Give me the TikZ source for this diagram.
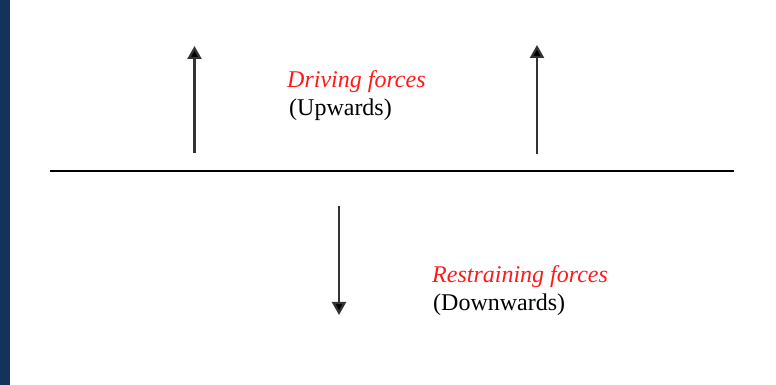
\documentclass[tikz,border=0pt]{standalone}
\usepackage{fontspec}
\setmainfont{Liberation Serif}
\usetikzlibrary{arrows.meta,positioning}
\definecolor{stripblue}{HTML}{14335C}
\definecolor{forcered}{HTML}{FF1A1A}
\tikzset{forcearrow/.style={line width=2.2pt,draw=black!80,-{Triangle[length=13pt 0,width=14pt 0,fill=black]}}}
\newcommand{\Fterm}[1]{\textcolor{forcered}{\itshape #1}}

\begin{document}
\begin{tikzpicture}[x=1pt,y=1pt,font=\fontsize{24}{28}\selectfont]
\useasboundingbox (0,0) rectangle (776,385);
\fill[stripblue] (0,0) rectangle (10,385);
% \draw[help lines] (0,0) grid (776,385);
\coordinate (lft) at (50,213.5);
\coordinate (rgt) at (734,213.5);
\coordinate (a1s) at (194.5,232);
\coordinate (a1e) at (194.5,339);
\coordinate (a2s) at (537,231);
\coordinate (a2e) at (537,340);
\coordinate (a3s) at (339,179);
\coordinate (a3e) at (339,70);
%
\node (drive) [anchor=base west,inner sep=0pt] at (287,297) {\Fterm{Driving forces}};
\node (up) [anchor=base west,inner sep=0pt] at (289,269) {(Upwards)};
\node (restrain) [anchor=base west,inner sep=0pt] at (432,102) {\Fterm{Restraining forces}};
\node (down) [anchor=base west,inner sep=0pt] at (433,74) {(Downwards)};
%
\draw[line width=2pt] (lft) -- (rgt);
\draw[forcearrow] (a1s) -- (a1e);
\draw[forcearrow] (a2s) -- (a2e);
\draw[forcearrow] (a3s) -- (a3e);
\end{tikzpicture}
\end{document}
